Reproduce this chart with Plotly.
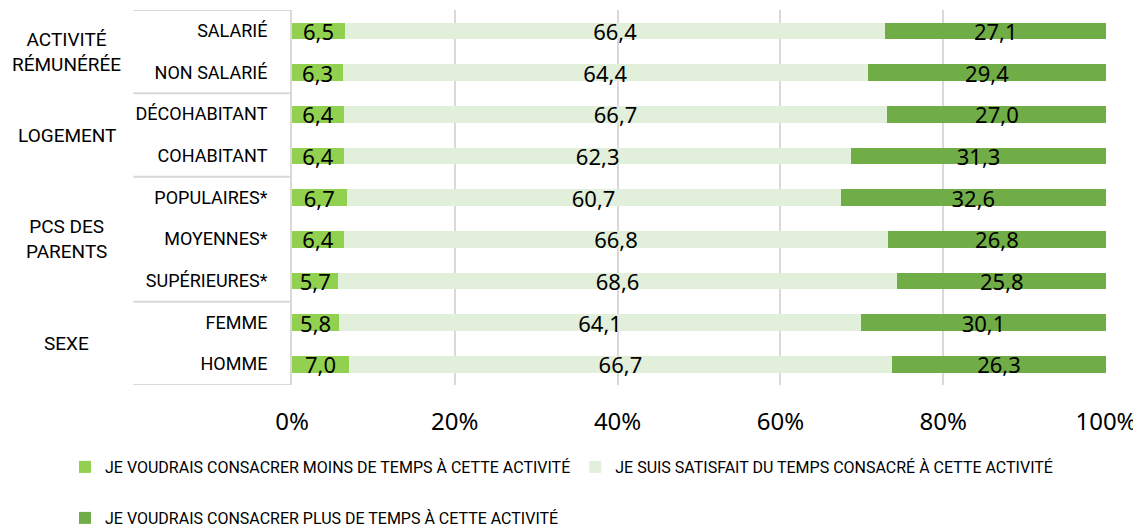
import plotly.graph_objects as go

groups = ["ACTIVITÉ<br>RÉMUNÉRÉE", "ACTIVITÉ<br>RÉMUNÉRÉE", "LOGEMENT", "LOGEMENT",
          "PCS DES<br>PARENTS", "PCS DES<br>PARENTS", "PCS DES<br>PARENTS", "SEXE", "SEXE"]
categories = ["SALARIÉ", "NON SALARIÉ", "DÉCOHABITANT", "COHABITANT",
              "POPULAIRES*", "MOYENNES*", "SUPÉRIEURES*", "FEMME", "HOMME"]
moins = [6.5, 6.3, 6.4, 6.4, 6.7, 6.4, 5.7, 5.8, 7.0]
satisfait = [66.4, 64.4, 66.7, 62.3, 60.7, 66.8, 68.6, 64.1, 66.7]
plus = [27.1, 29.4, 27.0, 31.3, 32.6, 26.8, 25.8, 30.1, 26.3]
series_names = ["JE VOUDRAIS CONSACRER MOINS DE TEMPS À CETTE ACTIVITÉ",
                "JE SUIS SATISFAIT DU TEMPS CONSACRÉ À CETTE ACTIVITÉ",
                "JE VOUDRAIS CONSACRER PLUS DE TEMPS À CETTE ACTIVITÉ"]
colors = ["#92D050", "#E2EFDA", "#70AD47"]
x_ticks = [0, 20, 40, 60, 80, 100]
x_ticktext = [f"{t}%" for t in x_ticks]

COND = "Roboto, Liberation Sans Narrow, sans-serif"
NUM = "Noto Sans, Open Sans, sans-serif"
GRID = "#D9D9D9"

# page body has an 8px margin: figure is sized to fit the 1141x528 window
W, H = 1133, 520
ML, MR, MT, MB = 284, 35, 2, 143
PW, PH = W - ML - MR, H - MT - MB

fig = go.Figure()
legends = ["legend", "legend", "legend2"]
for name, vals, col, lg in zip(series_names, [moins, satisfait, plus], colors, legends):
    fig.add_trace(go.Bar(
        y=categories, x=vals, orientation="h", name=name, legend=lg,
        marker=dict(color=col, line=dict(width=0)),
        text=[f"{v:.1f}".replace(".", ",") for v in vals],
        textposition="inside", insidetextanchor="middle", constraintext="none",
        textfont=dict(family=NUM, size=22, color="black"),
        hoverinfo="skip",
    ))

# group boundaries and group label positions derived from the groups list
bounds = [-0.5]
group_pos = {}
for i, g in enumerate(groups):
    group_pos.setdefault(g, []).append(i)
    if i > 0 and groups[i] != groups[i - 1]:
        bounds.append(i - 0.5)
bounds.append(len(groups) - 0.5)

shapes = [dict(type="line", xref="paper", yref="y", x0=-0.195, x1=0, y0=b, y1=b,
               line=dict(color=GRID, width=2)) for b in bounds]
annotations = [dict(text=g, xref="paper", yref="y", x=-0.277, y=sum(p) / len(p),
                    xanchor="center", yanchor="middle", showarrow=False, align="center",
                    font=dict(family=COND, size=19, color="black"))
               for g, p in group_pos.items()]

def leg_y(page_y):
    fig_y = page_y - 8
    return (MT + PH - fig_y) / PH

leg_x = (65 - 8 - ML) / PW

fig.update_layout(
    barmode="stack", bargap=0.6,
    width=W, height=H,
    margin=dict(l=ML, r=MR, t=MT, b=MB, autoexpand=False),
    plot_bgcolor="white", paper_bgcolor="white",
    uniformtext=dict(minsize=22, mode="show"),
    xaxis=dict(range=[0, 100], tickvals=x_ticks, ticktext=x_ticktext,
               showgrid=True, gridcolor=GRID, gridwidth=2,
               zeroline=False, showline=False, automargin=False,
               tickfont=dict(family=NUM, size=24, color="black"),
               ticks="outside", ticklen=0, ticklabelstandoff=15),
    yaxis=dict(range=[len(categories) - 0.5, -0.5], showline=True, linecolor=GRID, linewidth=2,
               tickfont=dict(family=COND, size=18, color="black"), automargin=False,
               ticks="outside", ticklen=0, ticklabelstandoff=19, showgrid=False),
    shapes=shapes,
    annotations=annotations,
    legend=dict(orientation="h", xref="paper", yref="paper",
                x=leg_x, y=leg_y(467), xanchor="left", yanchor="middle",
                font=dict(family=COND, size=16, color="black"), traceorder="normal"),
    legend2=dict(orientation="h", xref="paper", yref="paper",
                 x=leg_x, y=leg_y(518), xanchor="left", yanchor="middle",
                 font=dict(family=COND, size=16, color="black")),
    showlegend=True,
)

fig.write_html("out.html")
